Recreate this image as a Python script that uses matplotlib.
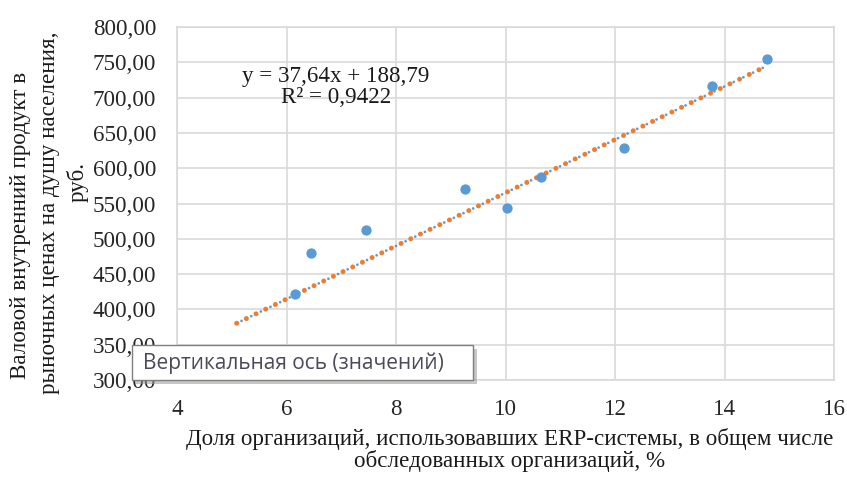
import matplotlib
matplotlib.use("Agg")
import matplotlib.pyplot as plt
import numpy as np
from matplotlib.patches import Rectangle

# Data
erp_share = [6.16, 6.45, 7.45, 9.26, 10.03, 10.65, 12.17, 13.77, 14.77]
gdp_per_capita = [422, 480, 512.5, 571, 543, 588, 628, 716, 754]
trend_slope = 37.64
trend_intercept = 188.79
trend_x_range = [5.09, 14.77]
x_ticks = [4, 6, 8, 10, 12, 14, 16]
y_ticks = [300, 350, 400, 450, 500, 550, 600, 650, 700, 750, 800]
y_tick_labels = [f"{v},00" for v in y_ticks]
equation_text = "y = 37,64x + 188,79\nR² = 0,9422"
x_label = "Доля организаций, использовавших ERP-системы, в общем числе\nобследованных организаций, %"
y_label_lines = ["Валовой внутренний продукт в",
                 "рыночных ценах на душу населения,",
                 "руб."]
tooltip_text = "Вертикальная ось (значений)"

serif = ["Liberation Serif", "DejaVu Serif"]
grid_c = "#d9d9d9"
fs = 16.6

fig = plt.figure(figsize=(8.47, 4.78), dpi=100)
ax = fig.add_axes([177/847, 1-380/478, (834-177)/847, (380-27)/478])

ax.set_xlim(4, 16)
ax.set_ylim(300, 800)
ax.set_xticks(x_ticks)
ax.set_yticks(y_ticks)
ax.set_yticklabels(y_tick_labels)
ax.grid(True, color=grid_c, linewidth=1.2)
ax.set_axisbelow(True)
for s in ax.spines.values():
    s.set_color(grid_c)
    s.set_linewidth(1.2)
ax.tick_params(length=0, labelsize=fs)
ax.tick_params(axis="y", pad=15)
ax.tick_params(axis="x", pad=14)
for lab in ax.get_xticklabels() + ax.get_yticklabels():
    lab.set_fontfamily(serif)
    lab.set_color("#262626")

# trendline (dotted, orange with blue dots between)
tx = np.array(trend_x_range)
ty = trend_slope * tx + trend_intercept
blue_lw = 2.0
orange_lw = 3.6
period_px = 10.7
bl_units = period_px / (blue_lw * 100 / 72)
or_units = period_px / (orange_lw * 100 / 72)
ax.plot(tx, ty, color="#5b9bd5", linewidth=blue_lw,
        linestyle=(bl_units / 2, (0.01, bl_units)), dash_capstyle="round", zorder=2)
ax.plot(tx, ty, color="#ed7d31", linewidth=orange_lw,
        linestyle=(0, (0.01, or_units)), dash_capstyle="round", zorder=3)

ax.scatter(erp_share, gdp_per_capita, s=55, color="#5b9bd5", zorder=4, linewidths=0)

fig.text(336/847, 1-87/478, equation_text, ha="center", va="center",
         fontsize=fs, family=serif, color="#1a1a1a", linespacing=1.0)

fig.text(510/847, 1-450/478, x_label, ha="center", va="center", fontsize=fs,
         family=serif, color="#1a1a1a", linespacing=1.05)
for line, (px, py) in zip(y_label_lines, [(21, 225), (50, 213), (78, 182)]):
    fig.text(px/847, 1-py/478, line, ha="center", va="center", rotation=90,
             fontsize=fs, family=serif, color="#1a1a1a")

# tooltip box
shadow = Rectangle((136/847, 1-384/478), (341/847), (35/478), transform=fig.transFigure,
                   facecolor="#9a9a9a", edgecolor="none", alpha=0.55, zorder=9)
fig.add_artist(shadow)
box = Rectangle((132/847, 1-380/478), (341/847), (35/478), transform=fig.transFigure,
                facecolor="white", edgecolor="#7f7f7f", linewidth=1, zorder=10)
fig.add_artist(box)
fig.text(143/847, 1-363/478, tooltip_text, ha="left", va="center", fontsize=15,
         family=["Open Sans", "DejaVu Sans"], color="#4a4a5a", zorder=11)

fig.savefig("out.png", dpi=100)
